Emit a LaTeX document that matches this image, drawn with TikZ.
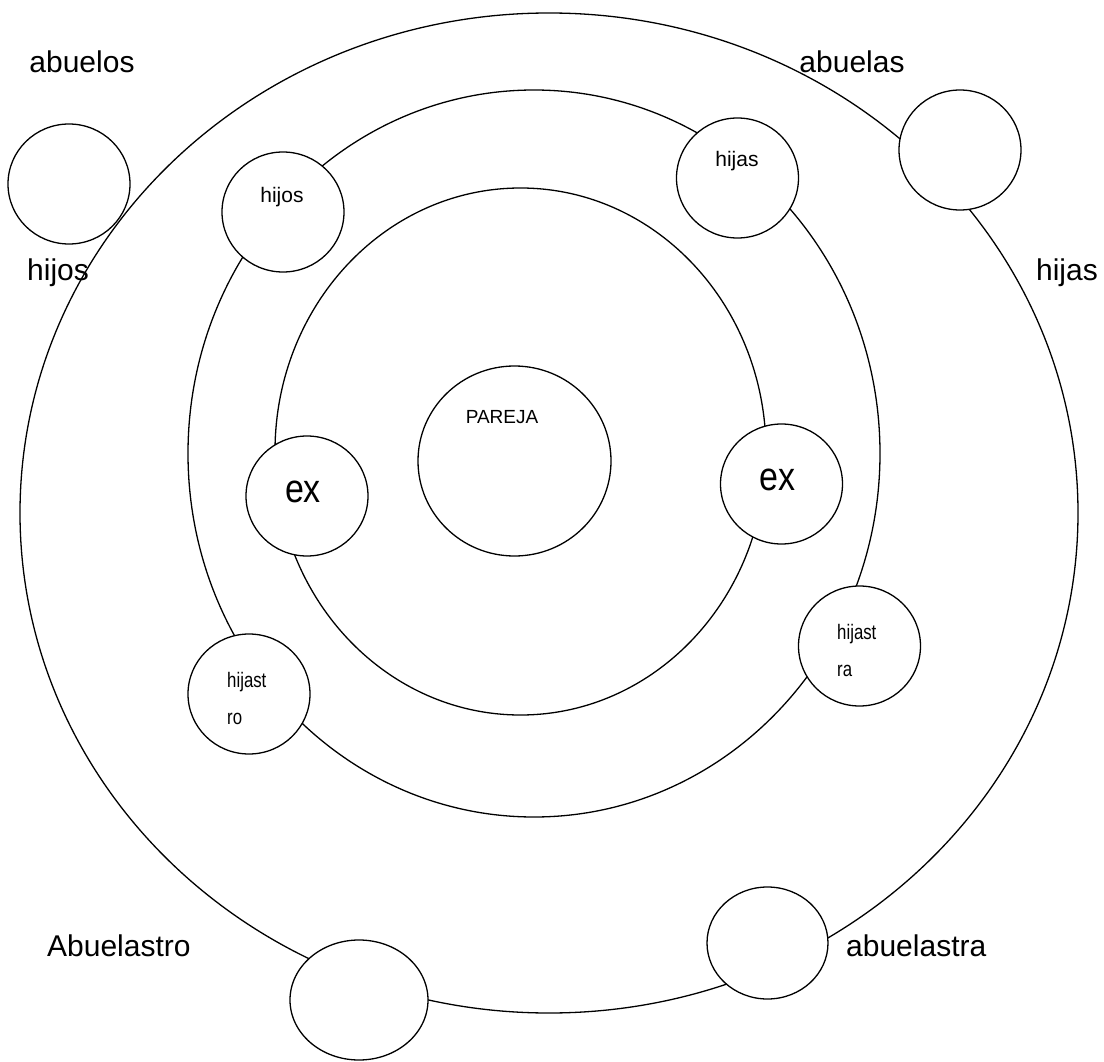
\documentclass[tikz,border=0pt]{standalone}
\usepackage{fontspec}
\setmainfont{Liberation Sans}
\newfontfamily\condfont[FakeStretch=0.8]{Liberation Sans}
\newfontfamily\exfont[FakeStretch=0.85]{Liberation Sans}
\usetikzlibrary{shapes.geometric}
\begin{document}
\begin{tikzpicture}[x=1pt,y=-1pt,
  ring/.style={draw, line width=1.3pt, ellipse, inner sep=0pt, outer sep=0pt},
  orb/.style={draw, line width=1.3pt, fill=white, ellipse, inner sep=0pt, outer sep=0pt, minimum width=122pt, minimum height=120pt},
  biglabel/.style={font=\fontsize{30pt}{36pt}\selectfont, inner sep=0pt},
  smalllabel/.style={font=\fontsize{21pt}{25pt}\selectfont, inner sep=0pt, anchor=base},
  condlabel/.style={font=\condfont\fontsize{21pt}{25pt}\selectfont, inner sep=0pt, anchor=base west},
  exlabel/.style={font=\exfont\fontsize{40pt}{48pt}\selectfont, inner sep=0pt, anchor=base}]
\useasboundingbox (0,0) rectangle (1104,1062);
\fill[white] (0,0) rectangle (1104,1062);
% rings
\node[ring, minimum width=1058pt, minimum height=1000pt] (outer) at (549,513) {};
\node[ring, minimum width=692pt, minimum height=727pt] (middle) at (534,453.5) {};
\node[ring, minimum width=491pt, minimum height=527pt] (inner) at (520.5,451.5) {};
% circles
\node[orb, minimum width=193pt, minimum height=190pt] (pareja) at (514.5,461) {};
\node[orb] (exl) at (307,496) {};
\node[orb] (exr) at (781.5,484) {};
\node[orb] (hijosc) at (283,212) {};
\node[orb] (hijasc) at (737.5,178) {};
\node[orb] (hijastroc) at (249,694) {};
\node[orb] (hijastrac) at (859.5,646) {};
\node[orb] (abuelosc) at (69,184) {};
\node[orb] (abuelasc) at (960,150) {};
\node[orb, minimum width=121pt, minimum height=112pt] (abuelastrac) at (767.5,943) {};
\node[orb, minimum width=138pt, minimum height=120pt] (abuelastroc) at (359,1000) {};
% outer labels
\node[biglabel, anchor=base] (tabuelos) at (82,73) {abuelos};
\node[biglabel, anchor=base] (tabuelas) at (852,73) {abuelas};
\node[biglabel, anchor=base west] (thijosout) at (27,280) {hijos};
\node[biglabel, anchor=base] (thijasout) at (1067,280) {hijas};
\node[biglabel, anchor=base west] (tabuelastro) at (47,956) {Abuelastro};
\node[biglabel, anchor=base west] (tabuelastra) at (846,956) {abuelastra};
% inner labels
\node[smalllabel] (thijos) at (282,203) {hijos};
\node[smalllabel] (thijas) at (737,167) {hijas};
\node[smalllabel, font=\fontsize{19pt}{23pt}\selectfont] (tpareja) at (502,423) {PAREJA};
\node[exlabel] (texl) at (303,502) {ex};
\node[exlabel] (texr) at (777.5,490) {ex};
\node[condlabel] (thijastroa) at (227,687) {hijast};
\node[condlabel] (thijastrob) at (227,724) {ro};
\node[condlabel] (thijastraa) at (837,639) {hijast};
\node[condlabel] (thijastrab) at (837,676) {ra};
\end{tikzpicture}
\end{document}
